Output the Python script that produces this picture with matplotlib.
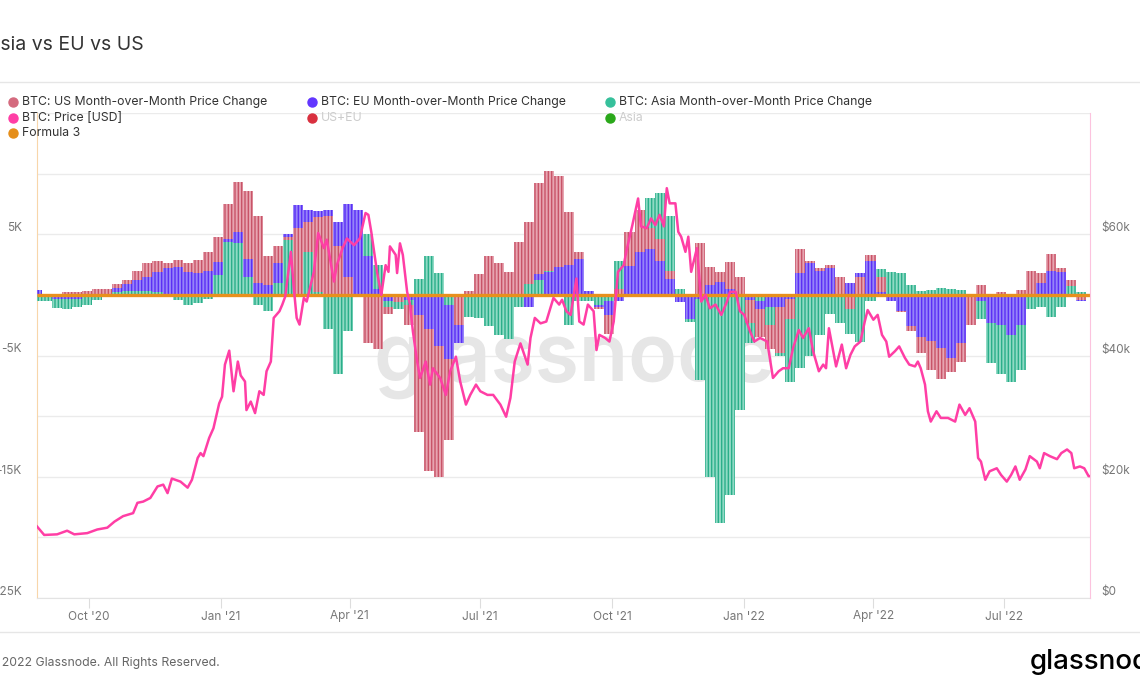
import numpy as np
import pandas as pd
import matplotlib
matplotlib.use("Agg")
import matplotlib.pyplot as plt
import matplotlib.dates as mdates
from matplotlib.ticker import FixedLocator, FuncFormatter
from matplotlib.lines import Line2D

plt.rcParams['font.family'] = ['Inter', 'DejaVu Sans']
plt.rcParams['hatch.linewidth'] = 1.0

START = pd.Timestamp("2020-08-26")
END = START + pd.Timedelta(days=734)

# weekly samples of the month-over-month change, thousands of USD
bar_dates = pd.date_range(START, periods=105, freq="7D")

us_mom = [0.1, 0.1, 0.1, 0.2, 0.2, 0.3, 0.45, 0.45, 0.9, 1.2, 2.0, 2.6, 2.8, 2.6, 2.9, 2.6, 2.9, 3.5, 4.8, 7.5, 9.3, 8.6, 6.5, 3.2, 4.0, 4.8, 5.5,
          6.0, 6.4, 6.5, 4.0, 1.5, -0.2, -4.0, -4.5, -1.6, -0.6, -2.5, -11.3, -14.5, -15.0, -12.0, -2.5, 0.3, 1.7, 3.2, 2.6, 1.9, 4.4, 6.0, 9.2, 10.2, 9.8,
          6.8, 3.5, 0.1, -1.2, -3.2, 0.5, 5.2, 7.0, 5.5, 4.6, 2.0, 0.1, 0.0, 4.3, 2.3, 1.9, 2.7, 1.5, -2.3, -3.5, -4.5, -4.8, -2.0, 3.8, 2.8, 2.2,
          2.5, 1.5, -1.2, 1.5, 3.3, 1.5, 0.0, -1.4, -3.0, -4.8, -6.2, -6.9, -6.4, -5.5, -2.5, 0.8, 0.0, 0.2, 0.0, 0.4, 2.0, 1.8, 3.4, 2.2, 1.2, -0.4]
eu_mom = [0.4, -0.2, -0.3, -0.3, -0.3, -0.2, 0.0, 0.1, 0.6, 0.9, 1.2, 1.5, 1.9, 2.2, 2.3, 1.9, 1.8, 2.0, 2.7, 4.6, 5.2, 3.0, 1.0, 0.8, 2.6, 5.0, 7.4,
          7.0, 6.9, 7.0, 6.0, 7.5, 7.0, 3.2, 0.5, -0.5, -0.6, -0.4, -1.7, -2.8, -4.2, -5.3, -4.0, 0.0, 0.1, 0.1, 0.1, 0.1, 0.0, -1.0, 1.7, 1.9, 2.3,
          2.5, 3.0, 0.3, -1.0, -1.7, -0.5, 2.4, 3.5, 3.8, 2.8, 1.3, -0.6, -2.0, -0.3, 0.8, 1.1, 0.5, 0.1, -0.4, -1.2, -1.0, -1.0, -0.3, 1.8, 2.6, 2.0,
          2.2, 1.5, 1.0, 1.8, 2.8, 0.2, -0.5, -1.3, -2.6, -3.5, -3.8, -4.4, -5.2, -4.0, -2.5, -0.5, -2.3, -2.5, -3.3, -2.5, -0.2, 1.0, 2.0, 1.9, 1.2, -0.5]
asia_mom = [-0.5, -0.5, -1.1, -1.2, -1.0, -0.8, -0.4, 0.0, 0.2, 0.3, 0.3, 0.3, 0.2, 0.1, -0.4, -0.8, -0.7, -0.3, 1.6, 4.4, 4.3, 1.5, -0.8, -1.3, 1.0, 4.5, 5.5,
            3.5, 0.2, -2.8, -6.5, -3.0, -0.2, 5.0, 2.5, -1.0, -1.2, -0.8, 1.3, 3.2, 1.8, -0.8, -2.5, -1.8, -1.9, -2.6, -3.3, -3.6, -1.0, 0.9, 1.2, 2.0, 2.3,
            -2.5, -0.5, -0.5, -0.8, -0.5, 2.8, 5.2, 7.0, 8.0, 8.4, 6.5, 0.5, -2.2, -7.0, -15.0, -18.8, -16.5, -9.5, -4.0, -0.5, -2.5, -5.0, -7.2, -6.0, -5.0, -3.3,
            -1.6, -2.3, -3.2, -3.9, -0.5, 2.1, 1.9, 1.8, 0.8, 0.3, 0.4, 0.6, 0.5, 0.4, 0.1, -2.0, -5.6, -6.5, -7.2, -6.2, -1.2, -1.0, -1.8, -1.0, 0.7, 0.2]

# BTC price, thousands of USD, at day offsets from START
price_day = [0, 5, 14, 21, 26, 35, 42, 49, 54, 60, 67, 70, 74, 79, 84, 88, 91, 94, 100, 105, 108, 112, 114, 116, 120, 123, 127, 129, 131, 134,
             137, 140, 142, 145, 146, 149, 152, 155, 158, 160, 163, 165, 169, 171, 173, 177, 179, 181, 183, 186, 188, 193, 196, 200, 202, 207, 209,
             213, 216, 221, 225, 229, 231, 233, 237, 240, 243, 245, 246, 250, 251, 253, 255, 258, 260, 262, 265, 267, 271, 274, 276, 281, 285, 288,
             292, 295, 299, 302, 306, 309, 314, 318, 323, 327, 330, 333, 337, 342, 344, 347, 351, 355, 360, 364, 366, 369, 372, 376, 378, 381, 384,
             388, 390, 392, 396, 399, 402, 405, 409, 411, 415, 419, 421, 425, 428, 431, 434, 437, 439, 441, 445, 447, 449, 452, 454, 456, 460, 463,
             466, 469, 473, 477, 481, 483, 487, 490, 493, 497, 500, 504, 509, 513, 517, 520, 524, 527, 531, 534, 538, 541, 545, 548, 550, 552, 555,
             557, 561, 564, 567, 570, 574, 577, 579, 583, 586, 589, 592, 594, 598, 601, 605, 608, 612, 614, 616, 619, 621, 623, 627, 630, 635, 640,
             643, 647, 650, 654, 656, 658, 661, 664, 669, 672, 676, 679, 682, 685, 689, 692, 697, 699, 702, 706, 711, 714, 718, 721, 723, 727, 730,
             733, 734]
price_k = [11.8, 10.4, 10.5, 11.1, 10.5, 10.7, 11.3, 11.6, 12.6, 13.5, 14.0, 15.7, 15.9, 16.5, 18.4, 18.7, 17.3, 19.7, 19.2, 18.2, 19.5, 23.1,
           23.9, 23.4, 26.4, 28.0, 32.1, 33.2, 38.5, 40.8, 34.1, 39.0, 36.7, 35.7, 31.0, 32.4, 30.5, 34.1, 33.5, 37.4, 39.0, 46.2, 47.3, 48.4,
           49.7, 57.1, 51.1, 46.2, 45.1, 49.5, 48.9, 53.8, 60.2, 57.7, 59.1, 52.2, 54.9, 57.7, 59.3, 58.2, 59.3, 63.5, 63.2, 60.4, 53.8, 50.0,
           54.9, 53.8, 58.0, 56.6, 53.6, 58.5, 56.6, 50.5, 48.4, 44.0, 39.0, 36.3, 39.0, 35.2, 37.9, 36.3, 33.5, 37.4, 39.8, 35.7, 31.9, 33.5,
           35.2, 34.1, 33.5, 33.5, 31.9, 29.9, 33.0, 39.0, 42.0, 38.5, 42.9, 46.2, 45.3, 45.6, 49.5, 48.4, 49.2, 47.3, 46.7, 52.7, 45.6, 45.1,
           48.4, 47.3, 40.9, 43.4, 42.9, 42.3, 45.6, 53.8, 54.9, 57.4, 61.5, 65.9, 61.3, 61.0, 62.6, 61.5, 63.2, 61.3, 67.6, 65.1, 65.1, 60.4,
           59.6, 57.1, 59.6, 53.8, 57.7, 48.9, 50.0, 47.8, 48.4, 46.7, 48.9, 50.5, 50.5, 47.3, 46.7, 44.0, 42.3, 42.9, 42.3, 36.3, 37.4, 37.9,
           37.9, 41.2, 44.2, 42.9, 44.5, 40.7, 37.4, 38.5, 37.9, 44.5, 40.7, 38.2, 41.8, 37.9, 40.1, 41.5, 42.3, 45.6, 47.5, 45.9, 46.7, 43.4,
           42.3, 39.8, 40.7, 41.5, 39.6, 38.5, 38.2, 39.0, 37.9, 35.2, 30.8, 29.1, 30.8, 29.7, 29.7, 29.1, 31.9, 30.2, 31.3, 29.1, 23.1, 22.5,
           19.5, 20.9, 21.4, 20.3, 19.2, 20.3, 21.7, 19.5, 21.2, 23.4, 22.5, 21.4, 23.9, 23.4, 22.9, 23.9, 24.5, 23.9, 21.4, 21.7, 21.4, 20.1, 20.1]

formula3_day = [0, 734]
formula3 = [0, 0]

left_ticks = [-25, -20, -15, -10, -5, 0, 5, 10, 15]
left_labels = {5: "5K", -5: "-5K", -15: "-15K", -25: "-25K"}
right_ticks = [0, 20, 40, 60]
right_labels = ["$0", "$20k", "$40k", "$60k"]

legend_rows = [
    [("BTC: US Month-over-Month Price Change", "#d46a7e", "#333333"),
     ("BTC: EU Month-over-Month Price Change", "#6236ff", "#333333"),
     ("BTC: Asia Month-over-Month Price Change", "#36c09b", "#333333")],
    [("BTC: Price [USD]", "#ff3ea5", "#333333"),
     ("US+EU", "#d9303f", "#cccccc"),
     ("Asia", "#2aa81a", "#cccccc")],
    [("Formula 3", "#e58e1a", "#333333")],
]

US_DARK, US_LIGHT = "#c85468", "#e7a5b1"
EU_DARK, EU_LIGHT = "#5b2ff5", "#9684f9"
ASIA_DARK, ASIA_LIGHT = "#2aae8a", "#8fdac4"
PRICE_COL = "#ff3ea5"
FORMULA_COL = "#e8901d"
GRID_COL = "#ebebeb"
TEXT_COL = "#777777"

W, H = 1140, 694
fig = plt.figure(figsize=(W / 100, H / 100), dpi=100)
ax = fig.add_axes([37 / W, 1 - 598 / H, 1053 / W, 485 / H])

# bars, smaller magnitude drawn in front
series = [(us_mom, US_DARK, US_LIGHT), (eu_mom, EU_DARK, EU_LIGHT), (asia_mom, ASIA_DARK, ASIA_LIGHT)]
mags = np.abs(np.array([s[0] for s in series]))
rank = mags.argsort(axis=0).argsort(axis=0)
for k, (vals, dark, light) in enumerate(series):
    bars = ax.bar(bar_dates, vals, width=7, color=light, edgecolor=dark,
                  hatch="|||||", linewidth=0)
    for p, r in zip(bars.patches, rank[k]):
        p.set_zorder(5 - r)

f_dates = START + pd.to_timedelta(formula3_day, unit="D")
ax.plot(f_dates, formula3, color=FORMULA_COL, lw=2.4, zorder=10, solid_capstyle="butt")

ax.text(0.51, 0.49, "glassnode", transform=ax.transAxes, fontsize=58, color="#e6e6e6",
        ha="center", va="center", fontweight="semibold", zorder=1)

ax.set_xlim(START, END)
ax.set_ylim(-25, 15)
ax.yaxis.set_major_locator(FixedLocator(left_ticks))
ax.yaxis.set_major_formatter(FuncFormatter(lambda v, p: left_labels.get(int(round(v)), "")))
ax.grid(axis="y", color=GRID_COL, lw=1)
ax.set_axisbelow(True)
ax.tick_params(axis="y", length=0, pad=11, labelsize=8.5, labelcolor=TEXT_COL)
for t in ax.get_yticklabels():
    t.set_va("bottom")

ax.xaxis.set_major_locator(mdates.MonthLocator(bymonth=[1, 4, 7, 10]))
ax.xaxis.set_major_formatter(mdates.DateFormatter("%b '%y"))
ax.tick_params(axis="x", length=7, width=0.8, color="#dddddd", pad=2, labelsize=8.5, labelcolor=TEXT_COL)

for s in ["top", "right"]:
    ax.spines[s].set_visible(False)
ax.spines["left"].set_color("#f8d6aa")
ax.spines["bottom"].set_color("#e3e3e3")

ax2 = ax.twinx()
p_dates = START + pd.to_timedelta(price_day, unit="D")
ax2.plot(p_dates, price_k, color=PRICE_COL, lw=1.8, zorder=5)
ax2.set_ylim(0, 80)
ax2.yaxis.set_major_locator(FixedLocator(right_ticks))
ax2.set_yticklabels(right_labels)
ax2.tick_params(axis="y", length=0, pad=8, labelsize=8.5, labelcolor=TEXT_COL)
for t in ax2.get_yticklabels():
    t.set_va("bottom")
for s in ["top", "left", "bottom"]:
    ax2.spines[s].set_visible(False)
ax2.spines["right"].set_color("#fcc3de")
ax2.set_xlim(START, END)

# header, legend and footer
fig.text(-13 / W, 1 - 45 / H, "Asia vs EU vs US", fontsize=14, color="#333333", va="center")
for ypix in (82, 632):
    fig.add_artist(Line2D([0, 1], [1 - ypix / H] * 2, transform=fig.transFigure, color="#e6e6e6", lw=1))

row_y = [102, 118, 133]
col_x = [13, 312, 610]
for r, row in enumerate(legend_rows):
    for c, (label, mcol, tcol) in enumerate(row):
        x, y = col_x[c] / W, 1 - row_y[r] / H
        fig.add_artist(Line2D([x], [y], marker="o", ms=6.5, color=mcol, lw=0, transform=fig.transFigure))
        fig.text(x + 9 / W, y, label, fontsize=8.8, color=tcol, va="center")

fig.text(-13 / W, 1 - 663 / H, "\u00a9 2022 Glassnode. All Rights Reserved.", fontsize=8.8, color="#666666", va="center")
fig.text(1030 / W, 1 - 662 / H, "glassnode", fontsize=20, color="black", va="center", fontweight="medium")

fig.savefig("out.png", dpi=100)
